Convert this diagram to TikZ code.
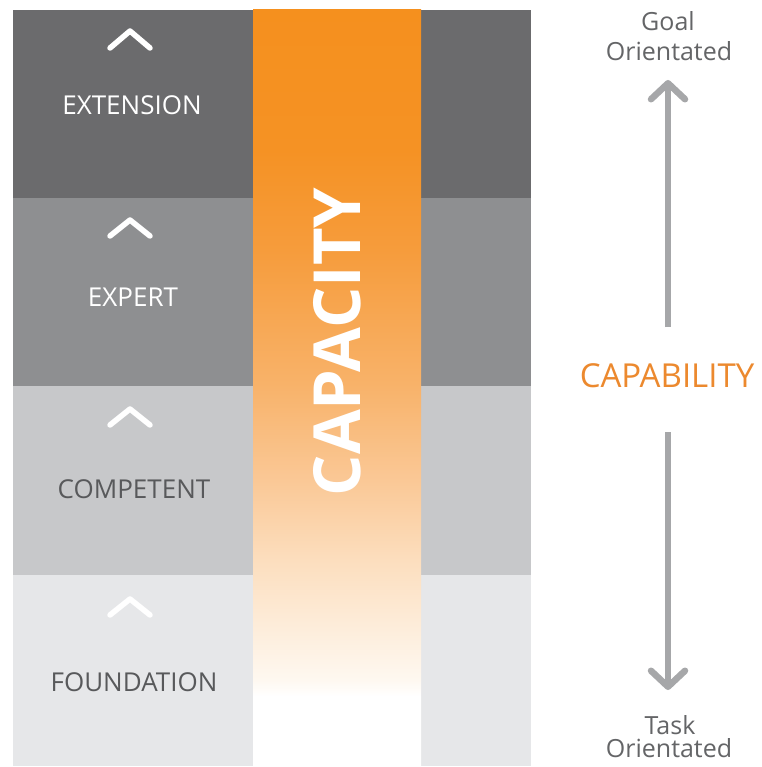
\documentclass[tikz,border=0pt]{standalone}
\usepackage{fontspec}
\setmainfont{Open Sans}
\usetikzlibrary{arrows.meta}

% band greys, from darkest (top) to lightest (bottom)
\definecolor{bandA}{RGB}{107,107,109}
\definecolor{bandB}{RGB}{142,143,145}
\definecolor{bandC}{RGB}{199,200,202}
\definecolor{bandD}{RGB}{230,231,233}
\definecolor{darktext}{RGB}{88,89,91}
\definecolor{sidetext}{RGB}{100,101,103}
\definecolor{arrowgray}{RGB}{166,167,169}
\definecolor{capaorange}{RGB}{236,137,46}

% orange column fade stops
\definecolor{orA}{RGB}{245,144,30}
\definecolor{orB}{RGB}{245,146,36}
\definecolor{orC}{RGB}{246,156,60}
\definecolor{orD}{RGB}{248,178,105}
\definecolor{orE}{RGB}{250,200,150}
\definecolor{orF}{RGB}{252,222,190}
\definecolor{orG}{RGB}{253,235,215}
\definecolor{orH}{RGB}{254,248,240}

% the path is mapped onto 25bp..75bp of the shading
\pgfdeclareverticalshading{capacityfade}{100bp}{%
  color(0bp)=(white); color(25bp)=(white); color(29.6bp)=(white);
  color(30.7bp)=(orH); color(34.7bp)=(orG); color(38.6bp)=(orF);
  color(43.9bp)=(orE); color(50.3bp)=(orD); color(59.1bp)=(orC);
  color(65.7bp)=(orB); color(75bp)=(orA); color(100bp)=(orA)}

\tikzset{
  chev/.style={draw=white, line width=5.5pt, line cap=round, line join=round},
  bandlabel/.style={anchor=base, inner sep=0pt, font=\fontsize{26}{30}\selectfont},
  sidelabel/.style={anchor=base, inner sep=0pt, text=sidetext, font=\fontsize{25}{30}\selectfont},
  bigarrow/.style={draw=arrowgray, line width=6.5pt,
    -{Straight Barb[length=16pt,width=34pt,line cap=round,line join=round]}},
}

\begin{document}
\begin{tikzpicture}[x=1pt, y=-1pt]
  \useasboundingbox[fill=white] (0,0) rectangle (761,767);

  % left column bands
  \fill[bandA] (13,10)  rectangle (253,198);
  \fill[bandB] (13,198) rectangle (253,386);
  \fill[bandC] (13,386) rectangle (253,575);
  \fill[bandD] (13,575) rectangle (253,766);

  % right column bands
  \fill[bandA] (421,10)  rectangle (531,198);
  \fill[bandB] (421,198) rectangle (531,386);
  \fill[bandC] (421,386) rectangle (531,575);
  \fill[bandD] (421,575) rectangle (531,766);

  % fading capacity column
  \shade[shading=capacityfade] (253,10) rectangle (421,766);

  % level chevrons
  \draw[chev] (110,48)  -- (130,31)  -- (150,48);
  \draw[chev] (110,236) -- (130,220) -- (150,236);
  \draw[chev] (110,425) -- (130,409) -- (150,425);
  \draw[chev] (110,615) -- (130,599) -- (150,615);

  % level labels
  \node[bandlabel, text=white]    (extension)  at (132,115) {EXTENSION};
  \node[bandlabel, text=white]    (expert)     at (133,306) {EXPERT};
  \node[bandlabel, text=darktext] (competent)  at (134,498) {COMPETENT};
  \node[bandlabel, text=darktext] (foundation) at (134,691) {FOUNDATION};

  % vertical column title
  \node[rotate=90, inner sep=0pt, text=white,
        font=\fontsize{65}{70}\selectfont\bfseries] (capacity) at (337,342) {CAPACITY};

  % capability scale
  \node[anchor=base, inner sep=0pt, text=capaorange,
        font=\fontsize{33}{36}\selectfont] (capability) at (667,387) {CAPABILITY};

  \node[sidelabel] (goal)   at (668,31)  {Goal};
  \node[sidelabel] (goalor) at (669,61)  {Orientated};
  \node[sidelabel] (task)   at (670,734) {Task};
  \node[sidelabel] (taskor) at (669,757) {Orientated};

  \coordinate (upfrom)   at (668,327);
  \coordinate (upto)     at (668,80);
  \coordinate (downfrom) at (668,432);
  \coordinate (downto)   at (668,690);

  \draw[bigarrow] (upfrom) -- (upto);
  \draw[bigarrow] (downfrom) -- (downto);
\end{tikzpicture}
\end{document}
